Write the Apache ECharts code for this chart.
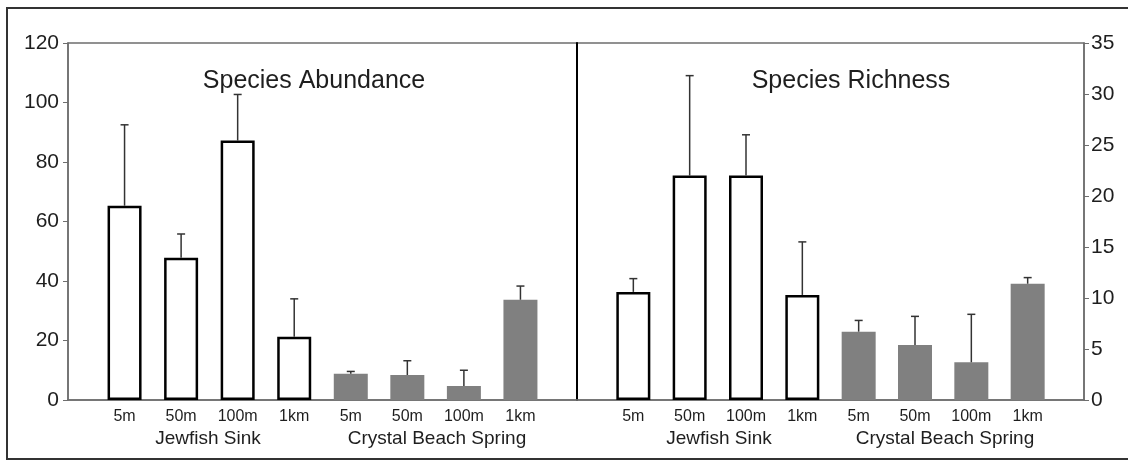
<!DOCTYPE html>
<html>
<head>
<meta charset="utf-8">
<script src="https://cdn.jsdelivr.net/npm/echarts@6/dist/echarts.min.js"></script>
<style>
  html, body { margin: 0; padding: 0; background: #fff; }
  #main { width: 1128px; height: 462px; }
</style>
</head>
<body>
<div id="main"></div>
<script>
// sites / distances along the x axis (blank slot at each end)
const categories = ['', '5m', '50m', '100m', '1km', '5m', '50m', '100m', '1km', ''];
const groupNames = ['Jewfish Sink', 'Crystal Beach Spring'];

// species abundance (mean, mean + error)
const abundJewfish = [65.3, 47.8, 87.2, 21.3];
const abundJewfishErr = [92.5, 55.8, 102.7, 34.0];
const abundCrystal = [8.8, 8.4, 4.7, 33.7];
const abundCrystalErr = [9.6, 13.2, 10.0, 38.3];

// species richness (mean, mean + error)
const richJewfish = [10.6, 22.0, 22.0, 10.3];
const richJewfishErr = [11.9, 31.8, 26.0, 15.5];
const richCrystal = [6.7, 5.4, 3.7, 11.4];
const richCrystalErr = [7.8, 8.2, 8.4, 12.0];

const abundTicks = { min: 0, max: 120, interval: 20 };
const richTicks = { min: 0, max: 35, interval: 5 };

const FONT = 'Liberation Sans, Arial, sans-serif';
const textCol = '#1e1e1e';
const axisCol = '#6e6e6e';

let chart = echarts.init(document.getElementById('main'));

function barData(open, filled) {
  let out = ['-'];
  open.forEach((v) => out.push({
    value: v,
    itemStyle: { color: '#fff', borderColor: '#000', borderWidth: 2.5 }
  }));
  filled.forEach((v) => out.push({
    value: v,
    itemStyle: { color: '#808080', borderWidth: 0 }
  }));
  out.push('-');
  return out;
}

function errData(open, openErr, filled, filledErr) {
  let out = [];
  open.forEach((v, i) => out.push([i + 1, v, openErr[i]]));
  filled.forEach((v, i) => out.push([i + 5, v, filledErr[i]]));
  return out;
}

function errRender(params, api) {
  const x = api.value(0);
  const lo = api.coord([x, api.value(1)]);
  const hi = api.coord([x, api.value(2)]);
  const cap = 4;
  const st = { stroke: '#333', lineWidth: 1.5 };
  return {
    type: 'group',
    children: [
      { type: 'line', shape: { x1: lo[0], y1: lo[1], x2: hi[0], y2: hi[1] }, style: st },
      { type: 'line', shape: { x1: hi[0] - cap, y1: hi[1], x2: hi[0] + cap, y2: hi[1] }, style: st }
    ]
  };
}

function xAxisFor(gridIndex) {
  return {
    type: 'category',
    gridIndex: gridIndex,
    data: categories,
    boundaryGap: false,
    axisLine: { show: true, lineStyle: { color: axisCol, width: 1.5 } },
    axisTick: { show: false },
    axisLabel: { color: textCol, fontSize: 16, fontFamily: FONT, margin: 9, interval: 0 },
    splitLine: { show: false }
  };
}

const option = {
  animation: false,
  backgroundColor: '#fff',
  grid: [
    { left: 68, top: 43, width: 509, height: 357, show: true, borderColor: axisCol, borderWidth: 1.5 },
    { left: 577, top: 43, width: 507, height: 357, show: true, borderColor: axisCol, borderWidth: 1.5 }
  ],
  xAxis: [xAxisFor(0), xAxisFor(1)],
  yAxis: [
    {
      type: 'value', gridIndex: 0, position: 'left',
      min: abundTicks.min, max: abundTicks.max, interval: abundTicks.interval,
      axisLine: { show: true, lineStyle: { color: axisCol, width: 1.5 } },
      axisTick: { show: true, inside: false, length: 5, lineStyle: { color: axisCol } },
      axisLabel: { color: textCol, fontSize: 21, fontFamily: FONT, margin: 9 },
      splitLine: { show: false }
    },
    {
      type: 'value', gridIndex: 1, position: 'right',
      min: richTicks.min, max: richTicks.max, interval: richTicks.interval,
      axisLine: { show: true, lineStyle: { color: axisCol, width: 1.5 } },
      axisTick: { show: true, inside: false, length: 5, lineStyle: { color: axisCol } },
      axisLabel: { color: textCol, fontSize: 21, fontFamily: FONT, margin: 7 },
      splitLine: { show: false }
    },
    {
      // divider between the two panels
      type: 'value', gridIndex: 1, position: 'left',
      min: richTicks.min, max: richTicks.max,
      axisLine: { show: true, lineStyle: { color: '#000', width: 2 } },
      axisTick: { show: false },
      axisLabel: { show: false },
      splitLine: { show: false }
    }
  ],
  series: [
    {
      type: 'bar', xAxisIndex: 0, yAxisIndex: 0, barWidth: 34,
      data: barData(abundJewfish, abundCrystal), z: 2
    },
    {
      type: 'custom', xAxisIndex: 0, yAxisIndex: 0,
      data: errData(abundJewfish, abundJewfishErr, abundCrystal, abundCrystalErr),
      renderItem: errRender, z: 3
    },
    {
      type: 'bar', xAxisIndex: 1, yAxisIndex: 1, barWidth: 34,
      data: barData(richJewfish, richCrystal), z: 2
    },
    {
      type: 'custom', xAxisIndex: 1, yAxisIndex: 1,
      data: errData(richJewfish, richJewfishErr, richCrystal, richCrystalErr),
      renderItem: errRender, z: 3
    }
  ],
  graphic: [
    // outer frame (right side is cut off in the original)
    { type: 'polyline', shape: { points: [[1128, 8], [7, 8], [7, 459], [1128, 459]] },
      style: { stroke: '#333', lineWidth: 2, fill: null }, silent: true },
    { type: 'text', x: 314, y: 81, style: { text: 'Species Abundance', fontSize: 25, fontFamily: FONT, fill: textCol, align: 'center', verticalAlign: 'middle' } },
    { type: 'text', x: 851, y: 81, style: { text: 'Species Richness', fontSize: 25, fontFamily: FONT, fill: textCol, align: 'center', verticalAlign: 'middle' } },
    { type: 'text', x: 208, y: 439, style: { text: groupNames[0], fontSize: 19, fontFamily: FONT, fill: textCol, align: 'center', verticalAlign: 'middle' } },
    { type: 'text', x: 437, y: 439, style: { text: groupNames[1], fontSize: 19, fontFamily: FONT, fill: textCol, align: 'center', verticalAlign: 'middle' } },
    { type: 'text', x: 719, y: 439, style: { text: groupNames[0], fontSize: 19, fontFamily: FONT, fill: textCol, align: 'center', verticalAlign: 'middle' } },
    { type: 'text', x: 945, y: 439, style: { text: groupNames[1], fontSize: 19, fontFamily: FONT, fill: textCol, align: 'center', verticalAlign: 'middle' } }
  ]
};

chart.setOption(option);
</script>
</body>
</html>
